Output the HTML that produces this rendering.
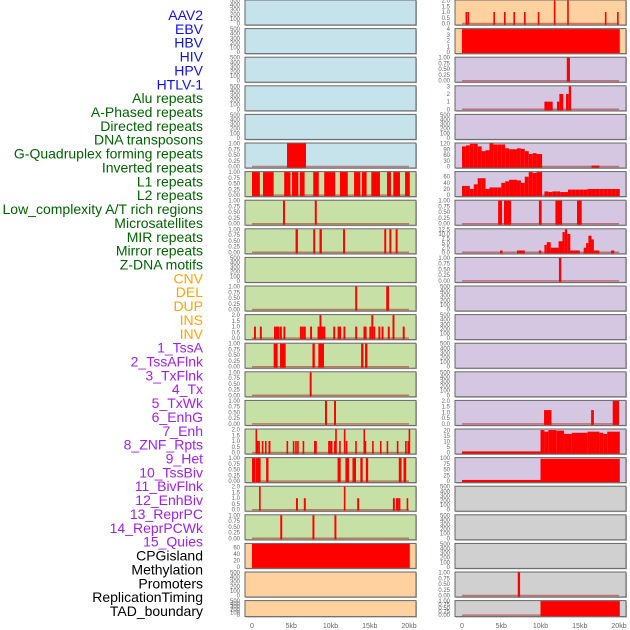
<!DOCTYPE html>
<html><head><meta charset="utf-8"><style>
body{margin:0;background:#fff;width:630px;height:630px;overflow:hidden}
svg{display:block}
</style></head><body>
<svg id="chart" width="630" height="630" xmlns="http://www.w3.org/2000/svg" font-family="Liberation Sans, sans-serif"></svg>
<script>
const labels=["AAV2","EBV","HBV","HIV","HPV","HTLV-1","Alu repeats","A-Phased repeats","Directed repeats","DNA transposons","G-Quadruplex forming repeats","Inverted repeats","L1 repeats","L2 repeats","Low_complexity A/T rich regions","Microsatellites","MIR repeats","Mirror repeats","Z-DNA motifs","CNV","DEL","DUP","INS","INV","1_TssA","2_TssAFlnk","3_TxFlnk","4_Tx","5_TxWk","6_EnhG","7_Enh","8_ZNF_Rpts","9_Het","10_TssBiv","11_BivFlnk","12_EnhBiv","13_ReprPC","14_ReprPCWk","15_Quies","CPGisland","Methylation","Promoters","ReplicationTiming","TAD_boundary"];
const labelGroups=[6,13,5,15,5];
const groupColors=["#1010ee","#006400","#ffa500","#a020f0","#000000"];
const xTicks=[0,5,10,15,20];
const xTickLabels=["0","5kb","10kb","15kb","20kb"];
// left column data [startKb,endKb,value]
const L5=[[4.46,6.88,1]];
const L6=[[0,1.0,1],[1.4,2.76,1],[4.1,4.9,1],[5.1,5.9,1],[6.1,6.7,1],[7.8,8.5,1],[9.2,10.6,1],[11.2,12.2,1],[13.0,13.8,1],[14.0,14.6,1],[15.2,16.3,1],[17.2,17.7,1],[18.0,18.85,1],[19.5,20.1,1]];
const L7=[[3.95,4.2,1],[8.0,8.25,1]];
const L8=[[5.55,5.85,1],[7.8,8.05,1],[8.6,8.9,1],[11.6,11.85,1],[16.85,17.1,1],[17.5,17.75,1],[18.3,18.55,1]];
const L10=[[13.15,13.4,1],[17.1,17.45,1]];
const L11=[[0.25,0.5,1],[1.0,1.25,1],[2.8,3.05,1],[3.05,3.3,1],[3.25,3.5,1],[3.55,3.8,1],[4.0,4.25,1],[6.1,6.35,1],[6.35,6.6,1],[6.6,6.85,1],[7.4,7.65,1],[8.35,8.6,1],[8.6,8.85,2],[8.85,9.1,1],[9.1,9.35,1],[10.35,10.6,1],[10.9,11.15,1],[11.1,11.35,1],[11.65,11.9,1],[13.15,13.4,1],[14.2,14.45,1],[14.35,14.6,1],[14.95,15.2,1],[15.2,15.45,2],[15.45,15.7,1],[16.1,16.35,1],[16.5,16.75,1],[17.3,17.55,1],[17.9,18.15,2],[19.2,19.45,1]];
const L12=[[2.76,3.27,1],[3.57,4.29,1],[7.7,8.0,1],[8.45,9.17,1],[13.9,14.2,1],[14.4,14.7,1]];
const L13=[[7.35,7.6,1]];
const L14=[[9.3,9.55,1],[10.45,10.7,1]];
const L15=[[0.45,0.6,2],[0.6,0.8,1],[0.8,1.0,1],[1.25,1.45,1],[1.65,1.85,1],[2.1,2.35,1],[4.4,4.6,1],[5.2,5.4,1],[5.5,5.7,1],[5.75,5.95,1],[6.45,6.65,1],[7.9,8.1,1],[8.05,8.25,1],[9.7,9.9,1],[9.85,10.05,1],[10.05,10.25,1],[10.45,10.6,1],[10.6,10.8,2],[11.1,11.3,1],[11.7,11.9,2],[11.95,12.15,1],[13.15,13.35,1],[14.2,14.4,2],[14.35,14.55,1],[15.3,15.5,1],[16.3,16.5,1],[17.15,17.35,1],[18.45,18.65,1],[19.5,19.7,1],[19.8,19.95,1],[19.95,20.1,2]];
const L16=[[0,0.4,1],[0.45,1.1,1],[1.8,2.1,1],[10.9,11.3,1],[11.9,12.35,1],[12.8,13.25,1],[13.8,14.1,1],[14.5,14.8,1],[18.7,19.05,1],[19.3,19.65,1]];
const L17=[[0.9,1.1,2],[5.6,5.85,1],[6.6,6.85,1],[11.7,11.9,2],[13.4,13.65,1],[17.95,18.2,1],[18.35,18.55,1],[18.5,18.7,1],[18.7,18.9,1],[19.7,19.9,1]];
const L18=[[3.6,3.85,1],[7.7,7.95,1],[10.5,10.75,1]];
const L19=[[0,20.1,72]];
// right column data
const R0=[[0.45,0.6,1],[0.7,0.85,1],[4.0,4.15,1],[5.35,5.5,1],[6.55,6.7,1],[7.9,8.05,1],[9.65,9.8,1],[11.7,11.85,2],[13.4,13.55,2],[18.2,18.35,1],[19.75,19.9,1]];
const R1=[[0,20.1,4]];
const R2=[[13.35,13.75,1]];
const R3=[[10.5,11.55,1],[12.1,12.4,1],[12.4,12.9,2],[13.25,13.6,2],[13.6,13.9,3]];
const R5bins=[105,110,118,118,105,80,85,120,115,115,115,95,90,90,95,92,80,65,70,65,65];
const R5extra=[[16.5,17.5,5]];
const R6bins=[30,30,20,35,55,55,20,25,25,25,40,45,50,50,48,40,60,75,72,75,75,12,10,12,12,10,10,18,18,18,18,18,20,20,20,20,20,20,20,20];
const R7=[[4.6,5.1,1],[5.35,6.25,1],[9.8,10.15,1],[11.9,12.75,1],[14.65,15.25,1]];
const R8=[[4.85,5.15,1],[7.0,8.0,1],[9.8,10.1,1],[10.5,10.8,4],[10.8,11.3,5.5],[11.3,12.3,2.5],[12.3,12.8,6],[12.8,13.1,11],[13.1,13.4,12.5],[13.4,13.8,10],[13.8,15.0,1],[15.5,15.8,2.5],[15.8,16.1,5],[16.1,16.5,9],[16.5,16.8,7],[16.8,17.5,1],[19.0,19.4,1]];
const R9=[[12.35,12.65,1]];
const R14=[[10.45,11.4,1.2],[16.45,16.8,1.2],[19.2,20.0,2]];
const R15=[[0,10,1],[10,10.5,20.5],[10.5,11,19],[11,12,20.5],[12,13,20],[13,14,17],[14,16,18],[16,17.5,19],[17.5,18,18],[18,18.5,17],[18.5,20.1,19]];
const R16=[[0,10,5],[10,20.1,97]];
const R20=[[7.1,7.4,1]];
const R21=[[10,20.1,1]];

function binsToBars(b,w){return b.map((v,i)=>[i*w,Math.min(i*w+w,i===b.length-1?10.2:99),v]);}
const T500=[0,100,200,300,400,500],T1=[0,0.25,0.5,0.75,1],T2=[0,0.5,1,1.5,2];
const BLUE="#c6e3eb",GREEN="#c7e0a5",PEACH="#ffd19f",LAV="#d5c6e2",GREY="#d0d0d0";
function P(bg,ticks,max,bars,dec){return {bg,ticks,max,bars,dec};}
const left=[P(BLUE,T500,500,null),P(BLUE,T500,500,null),P(BLUE,T500,500,null),P(BLUE,T500,500,null),P(BLUE,T500,500,null),
P(BLUE,T1,1,L5,2),P(GREEN,T1,1,L6,2),P(GREEN,T1,1,L7,2),P(GREEN,T1,1,L8,2),P(GREEN,T500,500,null),P(GREEN,T1,1,L10,2),P(GREEN,T2,2,L11,1),
P(GREEN,T1,1,L12,2),P(GREEN,T1,1,L13,2),P(GREEN,T1,1,L14,2),P(GREEN,T2,2,L15,1),P(GREEN,T1,1,L16,2),P(GREEN,T2,2,L17,1),P(GREEN,T1,1,L18,2),
P(PEACH,[0,20,40,60],72,L19,0),P(PEACH,T500,500,null),P(PEACH,T500,500,null)];
const right=[P(PEACH,T2,2,R0,1),P(PEACH,[0,1,2,3,4],4,R1,0),P(LAV,T1,1,R2,2),P(LAV,[0,1,2,3],3,R3,0),P(LAV,T500,500,null),
P(LAV,[0,30,60,90,120],120,binsToBars(R5bins,0.5).concat(R5extra),0),
P(LAV,[0,20,40,60],75,R6bins.map((v,i)=>[i*0.5,i===39?20.1:(i===20?10.2:i*0.5+0.5),v]),0),
P(LAV,T1,1,R7,2),P(LAV,[0,2.5,5,7.5,10,12.5],12.5,R8,1),P(LAV,T1,1,R9,2),P(LAV,T500,500,null),P(LAV,T500,500,null),P(LAV,T500,500,null),P(LAV,T500,500,null),
P(LAV,T2,2,R14,1),P(LAV,[0,5,10,15,20],21,R15,0),P(LAV,[0,25,50,75,100],100,R16,0),
P(GREY,T500,500,null),P(GREY,T500,500,null),P(GREY,T500,500,null),P(GREY,T1,1,R20,2),P(GREY,T1,1,R21,2)];

const svg=document.getElementById('chart');const NS="http://www.w3.org/2000/svg";
function mk(t,a,p){const e=document.createElementNS(NS,t);for(const k in a)e.setAttribute(k,a[k]);(p||svg).appendChild(e);return e;}

let li=0;
labelGroups.forEach((n,g)=>{for(let i=0;i<n;i++){const t=mk('text',{x:203,y:15+li*13.86+5,'text-anchor':'end','font-size':'14',fill:groupColors[g]});t.textContent=labels[li];

li++;}});

function drawCol(panels,px,dataX0,ci){
  const xs=kb=>dataX0+kb/20*157;
  panels.forEach((p,r)=>{
    const top=r*28.6, h=r===21?16:25;
    const g=mk('g',{});
    
    
    mk('rect',{x:px+1,y:top+1,width:171,height:h,fill:'#bbb'},g);
    mk('rect',{x:px,y:top,width:171,height:h,fill:p.bg,stroke:'#666','stroke-width':1},g);
    const y0=top+h-1.5, y1=top+0.5;
    const ys=v=>y0-v/p.max*(y0-y1);
    p.ticks.forEach(tv=>{const t=mk('text',{x:px-5,y:ys(tv)+2,'text-anchor':'end','font-size':'6',fill:'#666'},g);
      t.textContent=p.dec===undefined?String(tv):tv.toFixed(p.dec);
      
      });
    if(p.bars){
      mk('line',{x1:xs(0),x2:xs(20),y1:y0,y2:y0,stroke:'rgba(170,0,0,0.45)','stroke-width':1.5},g);
      p.bars.forEach(b=>{const x=xs(b[0]),w=Math.max(1.6,xs(b[1])-xs(b[0]));
        const rc=mk('rect',{x:x,y:ys(b[2]),width:w,height:y0-ys(b[2])+1,fill:'#ff0000'},g);
        
        });
    }
  });
  xTicks.forEach((v,i)=>{const t=mk('text',{x:xs(v),y:628,'text-anchor':'middle','font-size':'7',fill:'#666'});t.textContent=xTickLabels[i];
    
    });
}
drawCol(left,245,252,0);
drawCol(right,455,462,1);
</script>
</body></html>
